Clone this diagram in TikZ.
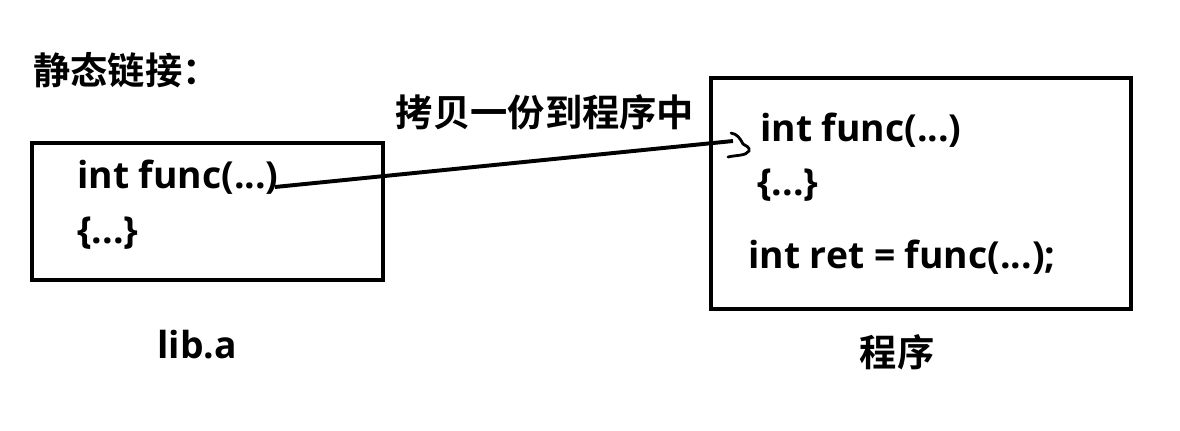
\documentclass[tikz,border=0pt]{standalone}
\usepackage{fontspec}
\setmainfont{Noto Sans CJK SC}[BoldFont={* Bold}]
\newfontfamily\codefont{Open Sans}[BoldFont={* Bold}]

\begin{document}
\begin{tikzpicture}[x=0.025cm,y=-0.025cm,
  boite/.style={line width=2.8pt},
  code/.style={anchor=west,inner sep=0pt,font=\codefont\bfseries\fontsize{26.5}{30}\selectfont},
  titre/.style={inner sep=0pt,font=\bfseries\fontsize{26.5}{30}\selectfont}]

\useasboundingbox (0,0) rectangle (1180,430);

% Titre
\node[titre,anchor=west] (titre) at (33,70) {静态链接：};

% Bibliotheque
\draw[boite] (32,143) rectangle (383,280);
\node[code] (lfunc) at (77,177) {int func(...)};
\node[code] (lcorps) at (77,233) {\{...\}};
\node[titre,font=\codefont\bfseries\fontsize{26.5}{30}\selectfont] (lib) at (197,345) {lib.a};

% Programme
\draw[boite] (711,78) rectangle (1131,309);
\node[code] (rfunc) at (760,130) {int func(...)};
\node[code] (rcorps) at (757,185) {\{...\}};
\node[code] (rret) at (748,257) {int ret = func(...);};
\node[titre] (prog) at (897,352) {程序};

% Fleche
\coordinate (pointe) at (733,141);
\draw[line width=2.8pt] (lfunc.east) ++(-4,10) -- (pointe);
\draw[line width=2pt,line cap=round]
  (731,133) .. controls (737,134) and (740,138) .. (743,144)
  .. controls (746,146) and (750,147) .. (749,151)
  .. controls (746,156) and (736,155) .. (728,157);
\node[titre] (copie) at (545,112) {拷贝一份到程序中};

\end{tikzpicture}
\end{document}
